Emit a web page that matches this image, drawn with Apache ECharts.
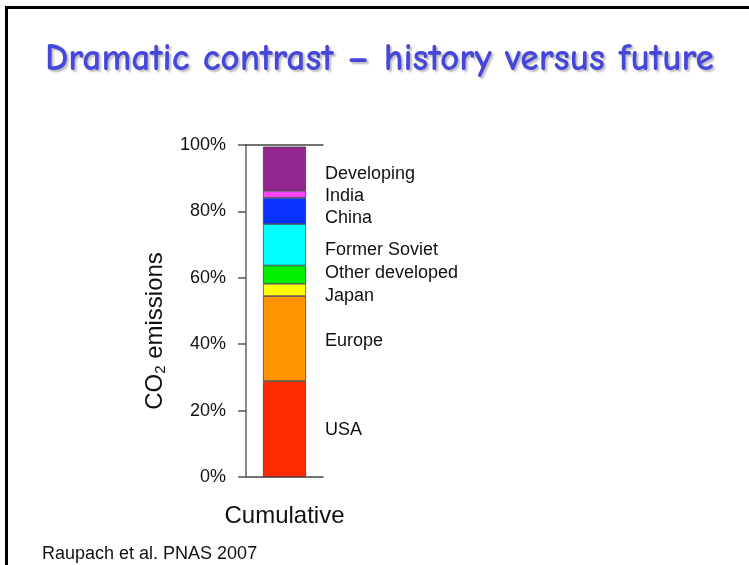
<!DOCTYPE html>
<html>
<head>
<meta charset="utf-8">
<style>
  html, body { margin: 0; padding: 0; background: #ffffff; }
  #chart { width: 749px; height: 565px; }
</style>
<script src="https://cdn.jsdelivr.net/npm/echarts@6/dist/echarts.min.js"></script>
</head>
<body>
<div id="chart"></div>
<script>
// Cumulative share of CO2 emissions by region (bottom to top of the stack)
const regions = ['USA', 'Europe', 'Japan', 'Other developed', 'Former Soviet', 'China', 'India', 'Developing'];
const shares = [28.9, 25.6, 3.7, 5.5, 12.5, 7.9, 2.1, 13.3];
const colors = ['#ff2a00', '#ff9400', '#ffff00', '#00ee00', '#00ffff', '#0a32ff', '#ff44ff', '#93258f'];
// small vertical nudges so the region names don't crowd each other
const labelShift = [1, 2, 6, -2, 5, 7, 2, 5];
const categories = ['Cumulative'];
const yTicks = [0, 20, 40, 60, 80, 100];

const chart = echarts.init(document.getElementById('chart'), null, { renderer: 'canvas' });

const series = regions.map((name, i) => ({
  name: name,
  type: 'bar',
  stack: 'total',
  barWidth: 43,
  data: [shares[i]],
  itemStyle: { color: colors[i], borderColor: '#333', borderWidth: 0.7 },
  label: {
    show: true,
    position: 'right',
    distance: 19,
    offset: [0, labelShift[i]],
    formatter: name,
    fontFamily: 'Liberation Sans, Arial, sans-serif',
    fontSize: 18,
    color: '#111'
  },
  emphasis: { disabled: true }
}));

chart.setOption({
  animation: false,
  backgroundColor: '#ffffff',
  title: {
    text: 'Dramatic contrast – history versus future',
    left: 40,
    top: 35,
    textStyle: {
      fontFamily: '"Comic Sans MS", "Comic Neue", "DejaVu Sans", sans-serif',
      fontWeight: 'bold',
      fontSize: 37.5,
      color: '#4646da',
      textShadowColor: 'rgba(120,120,120,0.5)',
      textShadowBlur: 2,
      textShadowOffsetX: 2,
      textShadowOffsetY: 2
    }
  },
  graphic: [
    {
      type: 'rect',
      shape: { x: 6.5, y: 7.5, width: 800, height: 600 },
      style: { fill: 'none', stroke: '#000', lineWidth: 3 },
      z: 10
    },
    {
      type: 'text',
      left: 42,
      top: 545,
      style: {
        text: 'Raupach et al. PNAS 2007',
        font: '18px "Liberation Sans", Arial, sans-serif',
        fill: '#111'
      }
    }
  ],
  grid: { left: 246, top: 145, width: 77, height: 332 },
  xAxis: [
    {
      type: 'category',
      data: categories,
      position: 'bottom',
      axisLine: { lineStyle: { color: '#444', width: 1.5 } },
      axisTick: { show: false },
      axisLabel: {
        fontFamily: 'Liberation Sans, Arial, sans-serif',
        fontSize: 24,
        color: '#111',
        margin: 27
      }
    },
    {
      type: 'category',
      data: categories,
      position: 'top',
      axisLine: { lineStyle: { color: '#444', width: 1.5 } },
      axisTick: { show: false },
      axisLabel: { show: false }
    }
  ],
  yAxis: {
    type: 'value',
    min: yTicks[0],
    max: yTicks[yTicks.length - 1],
    interval: yTicks[1] - yTicks[0],
    name: 'CO{sub|2} emissions',
    nameLocation: 'middle',
    nameRotate: 90,
    nameGap: 78,
    nameTextStyle: {
      fontFamily: 'Liberation Sans, Arial, sans-serif',
      fontSize: 24,
      color: '#111',
      padding: [0, 40, 0, 0],
      rich: {
        sub: { fontSize: 15, verticalAlign: 'bottom', padding: [10, 0, 0, 0], color: '#111',
               fontFamily: 'Liberation Sans, Arial, sans-serif' }
      }
    },
    axisLine: { show: true, lineStyle: { color: '#666', width: 1.5 } },
    axisTick: { show: true, length: 8, lineStyle: { color: '#555', width: 1.5 } },
    splitLine: { show: false },
    axisLabel: {
      formatter: '{value}%',
      fontFamily: 'Liberation Sans, Arial, sans-serif',
      fontSize: 18,
      color: '#111',
      margin: 20
    }
  },
  series: series
});
</script>
</body>
</html>
